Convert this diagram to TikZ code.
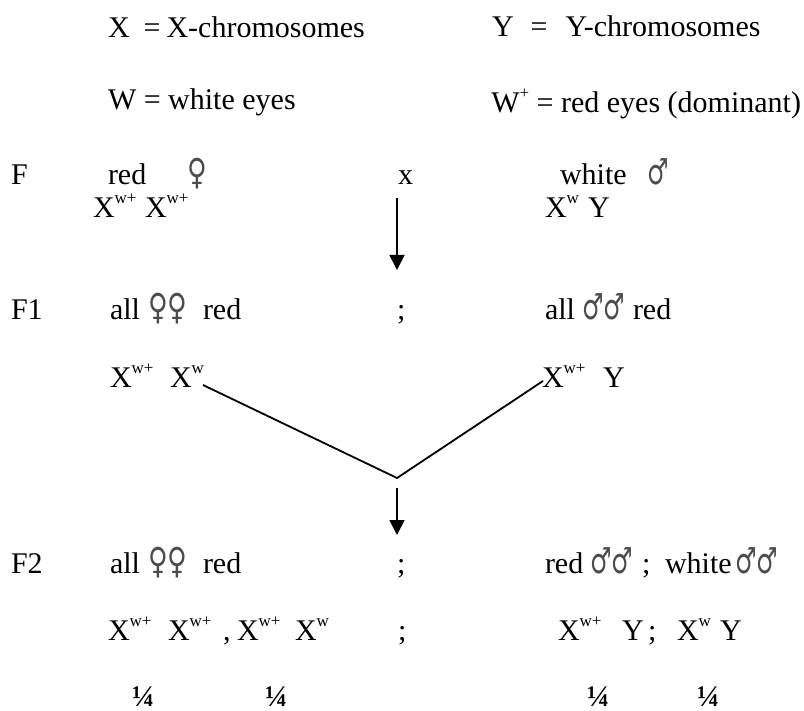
\documentclass[tikz,border=0pt]{standalone}
\usepackage{fontspec}
\usepackage{graphicx}
\setmainfont{Liberation Serif}
\newfontfamily\symf{DejaVu Sans}
\usetikzlibrary{arrows.meta}
\newcommand\supx[1]{\raisebox{14pt}{\fontsize{17}{17}\selectfont #1}}
\newcommand\fem{\scalebox{0.9}[1.2]{\color{black!70}\symf ♀}}
\newcommand\mal{\scalebox{0.8}[1.2]{\color{black!70}\symf ♂}}
\begin{document}
\begin{tikzpicture}[x=1pt,y=-1pt,
  t/.style={anchor=base west,inner sep=0pt,outer sep=0pt,font=\fontsize{30}{36}\selectfont},
  q/.style={t,font=\fontsize{30}{36}\selectfont\bfseries},
  conn/.style={line width=1.8pt},
  arr/.style={line width=1.8pt,-{Triangle[length=15pt,width=15pt]}}]
\fill[white] (0,0) rectangle (804,711);
\useasboundingbox (0,0) rectangle (804,711);
% legend
\node[t] (xdef) at (108,38) {X\hspace{14pt}=\hspace{6pt}X-chromosomes};
\node[t] (ydef) at (492,37) {Y\hspace{17pt}=\hspace{18pt}Y-chromosomes};
\node[t] (wdef) at (108,110) {W = white eyes};
\node[t,anchor=base east] (wpdef) at (801,113) {W\supx{+} = red eyes (dominant)};
% parents
\node[t] (F) at (11,185) {F};
\node[t] (pred) at (108,185) {red};
\node[t] (pfem) at (187,185) {\fem};
\node[t] (cross) at (398,185) {x};
\node[t] (pwhite) at (560,185) {white};
\node[t] (pmal) at (647,185) {\mal};
\node[t] (pfg1) at (93,218) {X\supx{w+}};
\node[t] (pfg2) at (145,218) {X\supx{w+}};
\node[t] (pmg1) at (545,218) {X\supx{w}};
\node[t] (pmg2) at (588,218) {Y};
\coordinate (a1s) at (397,198);
\coordinate (a1e) at (397,270);
\draw[arr] (a1s) -- (a1e);
% F1
\node[t] (F1) at (11,320) {F1};
\node[t] (f1all) at (110,320) {all};
\node[t] (f1fem) at (148,320) {\fem\fem};
\node[t] (f1red) at (203,320) {red};
\node[t] (f1semi) at (397,320) {;};
\node[t] (f1mall) at (545,320) {all};
\node[t] (f1mal) at (582,320) {\mal\mal};
\node[t] (f1mred) at (633,320) {red};
\node[t] (g1a) at (110,388) {X\supx{w+}};
\node[t] (g1b) at (170,388) {X\supx{w}};
\node[t] (g1c) at (542,388) {X\supx{w+}};
\node[t] (g1d) at (603,388) {Y};
\coordinate (lstart) at (203,385);
\coordinate (vtx) at (397,478);
\coordinate (rend) at (543,381);
\draw[conn] (lstart) -- (vtx) -- (rend);
\coordinate (a2s) at (397,488);
\coordinate (a2e) at (397,535);
\draw[arr] (a2s) -- (a2e);
% F2
\node[t] (F2) at (11,573) {F2};
\node[t] (f2all) at (110,573) {all};
\node[t] (f2fem) at (148,573) {\fem\fem};
\node[t] (f2red) at (203,573) {red};
\node[t] (f2semi) at (397,573) {;};
\node[t] (f2mred) at (545,573) {red};
\node[t] (f2mal) at (590,573) {\mal\mal};
\node[t] (f2semib) at (642,573) {;};
\node[t] (f2white) at (665,573) {white};
\node[t] (f2malb) at (735,573) {\mal\mal};
\node[t] (g2a) at (108,640) {X\supx{w+}};
\node[t] (g2b) at (168,640) {X\supx{w+}};
\node[t] (g2c) at (223,640) {,};
\node[t] (g2d) at (237,640) {X\supx{w+}};
\node[t] (g2e) at (295,640) {X\supx{w}};
\node[t] (g2semi) at (398,640) {;};
\node[t] (g2f) at (558,640) {X\supx{w+}};
\node[t] (g2g) at (622,640) {Y};
\node[t] (g2semib) at (648,640) {;};
\node[t] (g2h) at (677,640) {X\supx{w}};
\node[t] (g2i) at (720,640) {Y};
% fractions
\node[q] (q1) at (132,706) {¼};
\node[q] (q2) at (265,706) {¼};
\node[q] (q3) at (587,706) {¼};
\node[q] (q4) at (697,706) {¼};
\end{tikzpicture}
\end{document}
